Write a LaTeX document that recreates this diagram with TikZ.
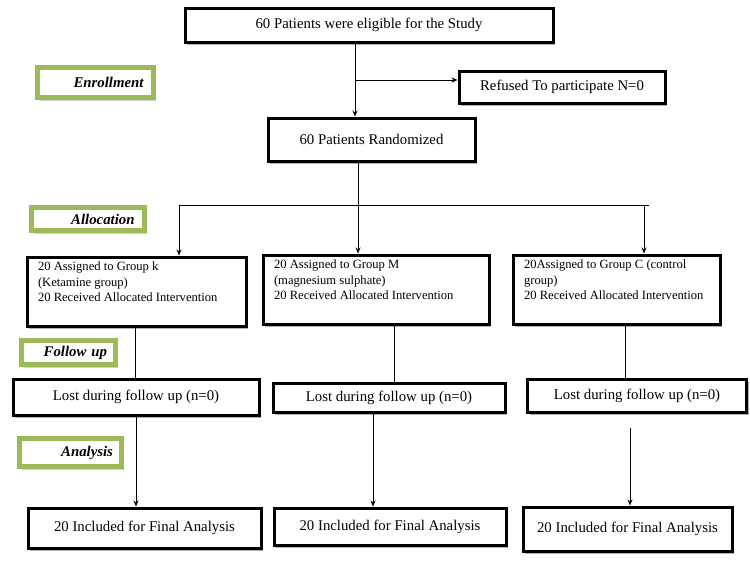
\documentclass[tikz,border=0pt]{standalone}
\usepackage{fontspec}
\setmainfont{Liberation Serif}
\usetikzlibrary{arrows.meta,shadows,calc}
\definecolor{labgreen}{RGB}{155,187,89}
\tikzset{
  box/.style={draw=black, line width=3pt, fill=white, inner sep=0pt,
    font=\fontsize{14.8}{17}\selectfont,
    drop shadow={shadow xshift=2pt, shadow yshift=-2.5pt, fill=black!50, opacity=0.6}},
  gbox/.style={box, inner xsep=11pt, inner ysep=4.5pt, font=\fontsize{12.6}{15.8}\selectfont},
  lab/.style={draw=labgreen, line width=5pt, fill=white, inner sep=0pt, align=right,
    font=\bfseries\itshape\fontsize{14.8}{16}\selectfont,
    drop shadow={shadow xshift=2pt, shadow yshift=-3pt, fill=black!25, opacity=0.7}},
  conn/.style={draw=black, line width=0.8pt},
  arr/.style={conn, -{Stealth[length=6pt,width=5pt]}}
}
\begin{document}
\begin{tikzpicture}[x=1pt,y=1pt]
\useasboundingbox (0,0) rectangle (750,-566);
\fill[white] (0,0) rectangle (750,-566);

% main boxes
\node[box, minimum width=368pt, minimum height=34pt] (elig) at (369,-25) {60 Patients were eligible for the Study};
\node[box, minimum width=206pt, minimum height=32pt] (ref) at (562,-87) {Refused To participate N=0};
\node[box, minimum width=207pt, minimum height=43pt] (rand) at (371.5,-139.5) {60 Patients Randomized};

% group boxes
\node[gbox] (gk) at (136.5,-291.5) {\begin{minipage}[c][60pt][t]{197pt}\raggedright 20 Assigned to Group k\\(Ketamine group)\\20 Received Allocated Intervention\end{minipage}};
\node[gbox] (gm) at (376,-289.5) {\begin{minipage}[c][60pt][t]{204pt}\raggedright 20 Assigned to Group M\\(magnesium sulphate)\\20 Received Allocated Intervention\end{minipage}};
\node[gbox] (gc) at (616.5,-289.5) {\begin{minipage}[c][60pt][t]{185pt}\raggedright 20Assigned to Group C (control\\group)\\20 Received Allocated Intervention\end{minipage}};

% lost boxes
\node[box, minimum width=246pt, minimum height=36pt] (l1) at (136,-397) {Lost during follow up (n=0)};
\node[box, minimum width=232pt, minimum height=29pt] (l2) at (389,-397.5) {Lost during follow up (n=0)};
\node[box, minimum width=219pt, minimum height=33pt] (l3) at (637,-395.5) {Lost during follow up (n=0)};

% included boxes
\node[box, minimum width=233pt, minimum height=40pt] (i1) at (144.5,-528) {20 Included for Final Analysis};
\node[box, minimum width=232pt, minimum height=37pt] (i2) at (390,-526.5) {20 Included for Final Analysis};
\node[box, minimum width=209pt, minimum height=44pt] (i3) at (627.5,-529) {20 Included for Final Analysis};

% stage labels
\node[lab, minimum width=116pt, minimum height=30pt, text width=96pt] (enr) at (95.5,-82.5) {Enrollment};
\node[lab, minimum width=113pt, minimum height=23pt, text width=93pt] (all) at (88,-219) {Allocation};
\node[lab, minimum width=94pt, minimum height=24pt, text width=77pt] (fol) at (68.5,-352.5) {Follow up};
\node[lab, minimum width=102pt, minimum height=28pt, text width=85pt] (ana) at (70.5,-452.5) {Analysis};

% connector columns
\coordinate (xa) at (355,0);
\coordinate (xb) at (358,0);
\coordinate (xk) at (179,0);
\coordinate (xc) at (644,0);
\coordinate (hy) at (0,-205);
\coordinate (hl) at (179,-205);
\coordinate (hr) at (649,-205);
\coordinate (fk) at (135,0);
\coordinate (fm) at (394,0);
\coordinate (fc) at (625,0);
\coordinate (ak) at (136,0);
\coordinate (am) at (373,0);
\coordinate (ac) at (630,0);
\coordinate (rw) at ($(ref.west)+(0,7)$);
\coordinate (l3s) at ($(l3.south -| ac)+(0,-14)$);

\draw[arr] (elig.south -| xa) -- (rand.north -| xa);
\draw[arr] (rw -| xa) -- (rw);
\draw[arr] (rand.south -| xb) -- (gm.north -| xb);
\draw[conn] (hl) -- (hr);
\draw[arr] (hl) -- (gk.north -| xk);
\draw[arr] (hy -| xc) -- (gc.north -| xc);

\draw[conn] (gk.south -| fk) -- (l1.north -| fk);
\draw[conn] (gm.south -| fm) -- (l2.north -| fm);
\draw[conn] (gc.south -| fc) -- (l3.north -| fc);

\draw[arr] (l1.south -| ak) -- (i1.north -| ak);
\draw[arr] (l2.south -| am) -- (i2.north -| am);
\draw[arr] (l3s) -- (i3.north -| ac);
\end{tikzpicture}
\end{document}
